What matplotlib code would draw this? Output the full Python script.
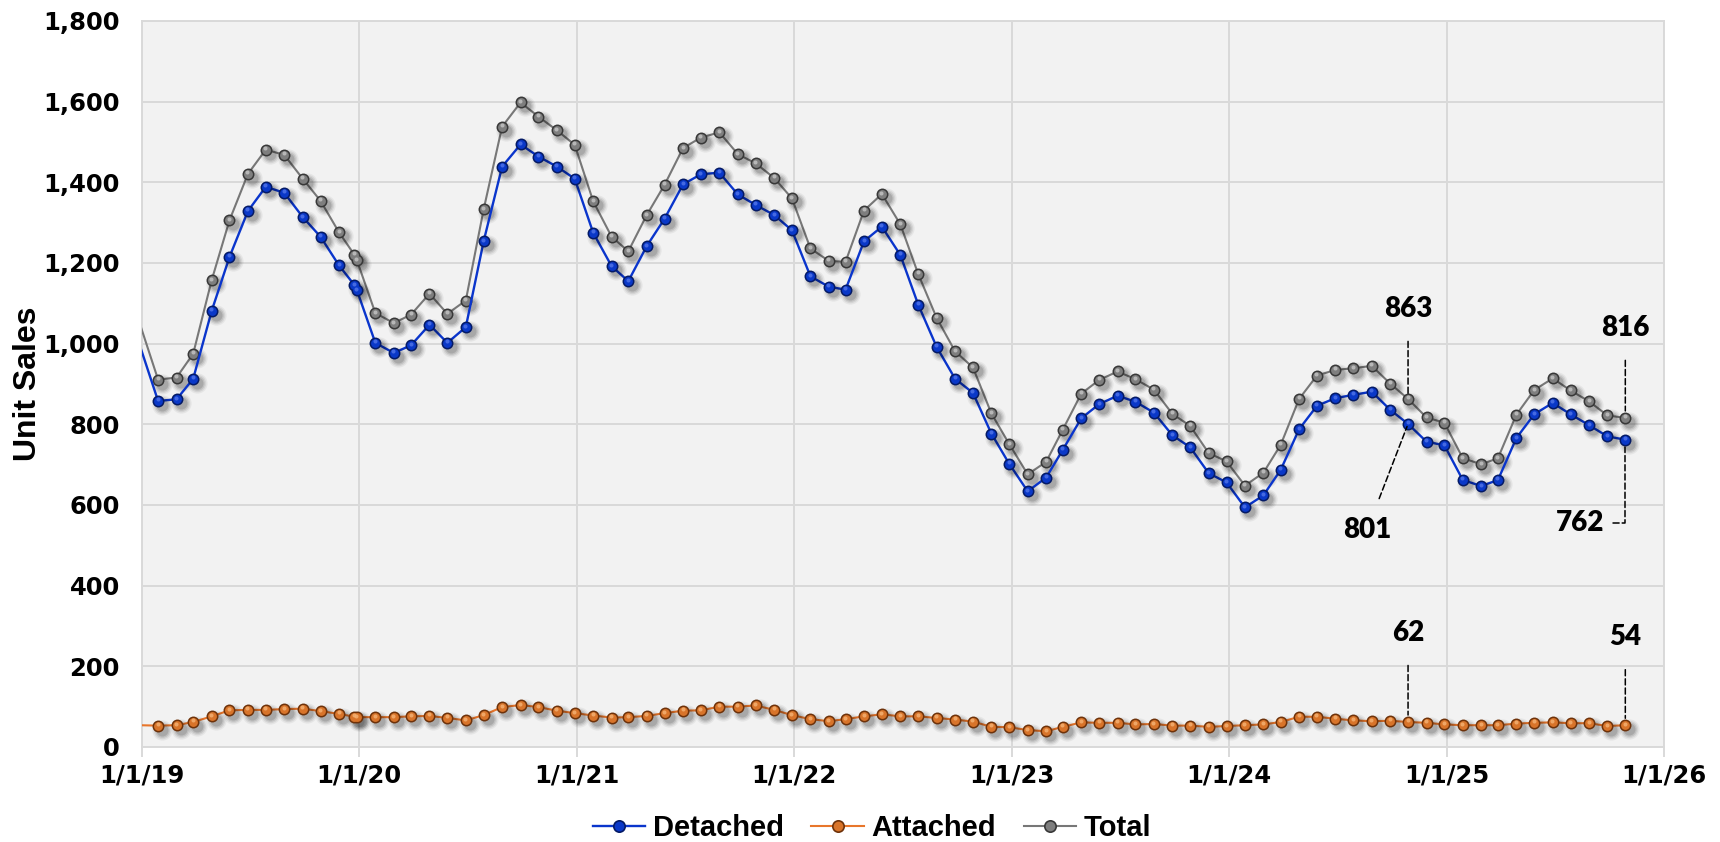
import numpy as np
import pandas as pd
import matplotlib
matplotlib.use("Agg")
import matplotlib.pyplot as plt
from matplotlib.transforms import offset_copy
from matplotlib.lines import Line2D

# ---- data -------------------------------------------------------------
# monthly closings, Dec 2018 .. Oct 2025 (December 2019 was reported twice)
dates = list(pd.date_range("2018-12-28", "2025-10-28", freq=pd.DateOffset(months=1)))
dates.insert(12, pd.Timestamp("2019-12-24"))
dates = pd.DatetimeIndex(dates)

detached = [997,
            858, 862, 913, 1081, 1215, 1329, 1389, 1374, 1314, 1265, 1194, 1145, 1133,
            1002, 977, 996, 1047, 1002, 1041, 1254, 1439, 1494, 1464, 1439, 1409,
            1275, 1192, 1155, 1242, 1310, 1395, 1420, 1424, 1370, 1344, 1319, 1281,
            1167, 1141, 1134, 1254, 1290, 1220, 1097, 992, 913, 878, 777, 702,
            634, 668, 737, 815, 850, 871, 856, 829, 773, 743, 679, 656,
            594, 624, 687, 788, 846, 865, 873, 881, 836, 801, 757, 748,
            662, 647, 662, 766, 825, 853, 825, 798, 770, 762]

attached = [54,
            53, 54, 62, 76, 91, 92, 92, 94, 95, 89, 82, 75, 74,
            74, 74, 76, 77, 72, 66, 79, 99, 104, 99, 90, 84,
            78, 73, 74, 77, 84, 90, 91, 100, 100, 103, 92, 79,
            69, 64, 69, 76, 81, 76, 76, 72, 68, 63, 50, 49,
            42, 39, 50, 61, 60, 60, 56, 57, 53, 53, 50, 52,
            54, 56, 62, 75, 75, 70, 66, 64, 65, 62, 60, 56,
            54, 54, 54, 58, 60, 61, 59, 59, 52, 54]

total = list(np.array(detached) + np.array(attached))

series_names = ["Detached", "Attached", "Total"]
year_ticks = pd.to_datetime(["2019-01-01", "2020-01-01", "2021-01-01", "2022-01-01",
                             "2023-01-01", "2024-01-01", "2025-01-01", "2026-01-01"])
year_labels = ["1/1/19", "1/1/20", "1/1/21", "1/1/22", "1/1/23", "1/1/24", "1/1/25", "1/1/26"]
y_ticks = [0, 200, 400, 600, 800, 1000, 1200, 1400, 1600, 1800]
y_labels = ["0", "200", "400", "600", "800", "1,000", "1,200", "1,400", "1,600", "1,800"]

# ---- styling ----------------------------------------------------------
styles = {
    "Detached": dict(line="#0A35CC", lw=1.7, base="#041A66", mid="#0A38C8", hi="#4F72E8"),
    "Attached": dict(line="#E8762B", lw=1.5, base="#6E320A", mid="#D8742A", hi="#F4B071"),
    "Total":    dict(line="#777777", lw=1.5, base="#383838", mid="#7E7E7E", hi="#C2C2C2"),
}
GRID = "#D9D9D9"
MS = 8.6

fig = plt.figure(figsize=(17.2, 8.42), dpi=100, facecolor="white")
W, H = 1720, 842
ax = fig.add_axes([142 / W, 95 / H, (1664 - 142) / W, (747 - 21) / H])
ax.set_facecolor("#F2F2F2")

xlim = (year_ticks[0], year_ticks[-1])
inside = (dates >= xlim[0]) & (dates <= xlim[1])


def sphere_markers(x, y, st, z):
    """Shaded round markers with a soft drop shadow."""
    for grow, alpha in [(6, 0.05), (4, 0.07), (2, 0.09), (0, 0.12)]:
        tr = offset_copy(ax.transData, fig=fig, x=4, y=-4, units="dots")
        ax.plot(x, y, "o", ms=MS + grow, color="black", alpha=alpha, mec="none",
                transform=tr, zorder=z, clip_on=False)
    ax.plot(x, y, "o", ms=MS, color=st["base"], mec="none", zorder=z + 0.1, clip_on=False)
    ax.plot(x, y, "o", ms=MS * 0.74, color=st["mid"], mec="none", zorder=z + 0.2, clip_on=False)
    tr = offset_copy(ax.transData, fig=fig, x=-0.5, y=1.5, units="dots")
    ax.plot(x, y, "o", ms=MS * 0.34, color=st["hi"], mec="none", alpha=0.85,
            transform=tr, zorder=z + 0.3, clip_on=False)


values = {"Detached": detached, "Attached": attached, "Total": total}
zbase = {"Total": 3, "Detached": 4, "Attached": 5}
for name in ["Total", "Detached", "Attached"]:
    st = styles[name]
    v = np.array(values[name])
    ax.plot(dates, v, color=st["line"], lw=st["lw"], zorder=zbase[name])
    sphere_markers(dates[inside], v[inside], st, zbase[name] + 0.5)

# ---- axes ---------------------------------------------------------------
ax.set_xlim(*xlim)
ax.set_ylim(0, 1800)
ax.set_xticks(year_ticks, year_labels)
ax.set_yticks(y_ticks, y_labels)
ax.grid(True, color=GRID, lw=1.4, zorder=0)
ax.set_axisbelow(True)
for s in ax.spines.values():
    s.set_color(GRID)
    s.set_linewidth(1.4)
ax.tick_params(axis="x", length=7, width=1.4, color=GRID, pad=5)
ax.tick_params(axis="y", length=0, pad=16)
for lab in ax.get_xticklabels() + ax.get_yticklabels():
    lab.set_fontfamily("DejaVu Sans")
    lab.set_fontweight("bold")
    lab.set_fontsize(17.5)
    lab.set_color("black")

fig.text(28 / W, 1 - 384 / H, "Unit Sales", rotation=90, ha="center", va="center",
         fontsize=23, fontweight="bold", family="Liberation Sans")

# ---- callouts ----------------------------------------------------------
last = len(dates) - 1
prev = last - 12
ann_font = dict(fontsize=20, fontweight="heavy", family=["Lato", "DejaVu Sans"], color="black")
dash = dict(arrowstyle="-", color="black", lw=1.1, linestyle=(0, (4, 2)))

callouts = [
    (prev, total, (0, 90), dict(shrinkA=12, shrinkB=2)),
    (last, total, (0, 90), dict(shrinkA=12, shrinkB=5)),
    (prev, attached, (0, 89), dict(shrinkA=12, shrinkB=5)),
    (last, attached, (0, 88), dict(shrinkA=12, shrinkB=5)),
    (prev, detached, (-41, -106), dict(shrinkA=12, shrinkB=2)),
]
for idx, arr, off, shr in callouts:
    ax.annotate(f"{arr[idx]}", xy=(dates[idx], arr[idx]), xytext=off,
                textcoords="offset pixels", ha="center", va="center",
                arrowprops=dict(dash, **shr), zorder=10, **ann_font)
# elbow leader for the latest detached value
ax.annotate(f"{detached[last]}", xy=(dates[last], detached[last]), xytext=(-45, -83),
            textcoords="offset pixels", ha="center", va="center",
            arrowprops=dict(dash, shrinkA=4, shrinkB=5,
                            connectionstyle="angle,angleA=0,angleB=90,rad=0"),
            zorder=10, **ann_font)

# ---- legend ------------------------------------------------------------
handles = [Line2D([0], [0], color=styles[n]["line"], lw=styles[n]["lw"], marker="o",
                  ms=MS * 0.95, mfc=styles[n]["mid"], mec=styles[n]["base"], mew=1.2)
           for n in series_names]
fig.legend(handles, series_names, loc="center", bbox_to_anchor=(872 / W, 1 - 828 / H),
           ncol=3, frameon=False, handlelength=1.8, handletextpad=0.25, columnspacing=0.95,
           prop=dict(family="Liberation Sans", weight="bold", size=21))

fig.savefig("out.png", dpi=100, facecolor="white")
